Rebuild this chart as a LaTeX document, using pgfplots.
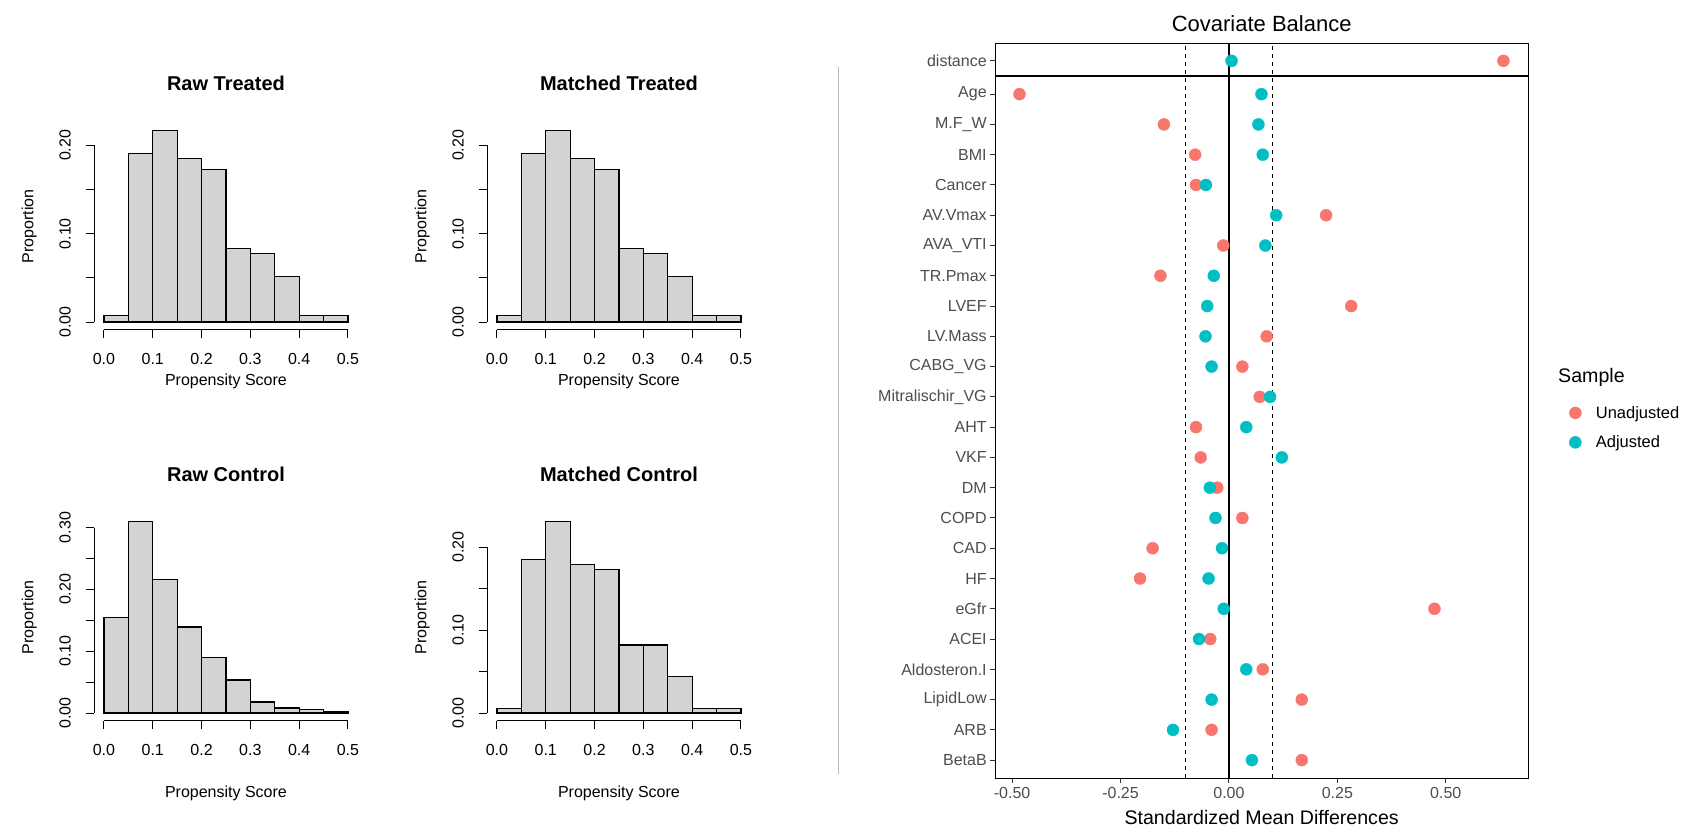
\documentclass[border=0pt]{standalone}
\usepackage{fontspec}
\setmainfont{Liberation Sans}
\usepackage{pgfplots}
\usepackage{pgfplotstable}
\pgfplotsset{compat=1.18}
\definecolor{ggred}{HTML}{F8766D}
\definecolor{ggteal}{HTML}{00BFC4}
\definecolor{gray30}{HTML}{4D4D4D}
\definecolor{gray20}{HTML}{333333}
\definecolor{rgray}{HTML}{D3D3D3}

\pgfplotstableread{
row unadj adj
24.1 0.633 0.006
23 -0.483 0.075
22 -0.150 0.068
21 -0.078 0.078
20 -0.076 -0.053
19 0.224 0.109
18 -0.013 0.084
17 -0.158 -0.035
16 0.282 -0.050
15 0.087 -0.054
14 0.031 -0.040
13 0.071 0.095
12 -0.076 0.040
11 -0.065 0.122
10 -0.027 -0.044
9 0.031 -0.031
8 -0.176 -0.016
7 -0.205 -0.047
6 0.474 -0.012
5 -0.043 -0.069
4 0.078 0.040
3 0.168 -0.040
2 -0.040 -0.129
1 0.168 0.053
}\baldata

\pgfplotsset{
  rhist/.style={
    scale only axis, width=263.5pt, height=207pt,
    xmin=-0.02, xmax=0.52,
    axis line style={draw=none},
    tick align=outside, major tick length=8.5pt,
    xtick pos=left, ytick pos=left,
    tick style={black, line width=1pt},
    xtick={0,0.1,0.2,0.3,0.4,0.5},
    xticklabels={0.0,0.1,0.2,0.3,0.4,0.5},
    ticklabel style={font=\fontsize{16}{19}\selectfont},
    xticklabel style={anchor=center, yshift=-21pt},
    yticklabel style={anchor=center, xshift=-20.5pt, rotate=90},
    xlabel={Propensity Score}, ylabel={Proportion},
    label style={font=\fontsize{16}{19}\selectfont},
    ylabel style={at={(axis description cs:-0.247,0.5)}, anchor=center},
    title style={at={(axis description cs:0.5,1.161)}, anchor=center, font=\bfseries\fontsize{20}{24}\selectfont},
    clip=false,
  },
  toprow/.style={xlabel style={at={(axis description cs:0.5,-0.25)}, anchor=center}},
  botrow/.style={xlabel style={at={(axis description cs:0.5,-0.349)}, anchor=center}},
  rbar/.style={ybar, bar width=0.05, bar shift=0pt, fill=rgray, draw=black, line width=1.2pt},
}

\begin{document}
\begin{tikzpicture}
\path[use as bounding box] (0,0) rectangle (1691pt,829pt);

% Raw Treated
\begin{axis}[rhist, toprow, at={(94.2pt,499.3pt)}, anchor=south west,
  ymin=-0.00868, ymax=0.22568, title={Raw Treated},
  ytick={0,0.05,0.1,0.15,0.2}, yticklabels={0.00,,0.10,,0.20}]
\addplot[rbar] coordinates {(0.025,0.0075) (0.075,0.191) (0.125,0.217) (0.175,0.185) (0.225,0.173) (0.275,0.0836) (0.325,0.078) (0.375,0.0516) (0.425,0.0075) (0.475,0.0075)};
\draw[line width=1pt] (axis cs:0,-0.00868) -- (axis cs:0.5,-0.00868);
\draw[line width=1pt] (axis cs:-0.02,0) -- (axis cs:-0.02,0.2);
\end{axis}

% Matched Treated
\begin{axis}[rhist, toprow, at={(487.2pt,499.3pt)}, anchor=south west,
  ymin=-0.00868, ymax=0.22568, title={Matched Treated},
  ytick={0,0.05,0.1,0.15,0.2}, yticklabels={0.00,,0.10,,0.20}]
\addplot[rbar] coordinates {(0.025,0.0075) (0.075,0.191) (0.125,0.217) (0.175,0.185) (0.225,0.173) (0.275,0.0836) (0.325,0.078) (0.375,0.0516) (0.425,0.0075) (0.475,0.0075)};
\draw[line width=1pt] (axis cs:0,-0.00868) -- (axis cs:0.5,-0.00868);
\draw[line width=1pt] (axis cs:-0.02,0) -- (axis cs:-0.02,0.2);
\end{axis}

% Raw Control
\begin{axis}[rhist, botrow, at={(94.2pt,108.3pt)}, anchor=south west,
  ymin=-0.0124, ymax=0.3224, title={Raw Control},
  ytick={0,0.05,0.1,0.15,0.2,0.25,0.3}, yticklabels={0.00,,0.10,,0.20,,0.30}]
\addplot[rbar] coordinates {(0.025,0.154) (0.075,0.310) (0.125,0.216) (0.175,0.139) (0.225,0.090) (0.275,0.0535) (0.325,0.018) (0.375,0.008) (0.425,0.0054) (0.475,0.0016)};
\draw[line width=1pt] (axis cs:0,-0.0124) -- (axis cs:0.5,-0.0124);
\draw[line width=1pt] (axis cs:-0.02,0) -- (axis cs:-0.02,0.3);
\end{axis}

% Matched Control
\begin{axis}[rhist, botrow, at={(487.2pt,108.3pt)}, anchor=south west,
  ymin=-0.00924, ymax=0.24024, title={Matched Control},
  ytick={0,0.05,0.1,0.15,0.2}, yticklabels={0.00,,0.10,,0.20}]
\addplot[rbar] coordinates {(0.025,0.0056) (0.075,0.185) (0.125,0.231) (0.175,0.179) (0.225,0.173) (0.275,0.082) (0.325,0.082) (0.375,0.044) (0.425,0.0056) (0.475,0.0056)};
\draw[line width=1pt] (axis cs:0,-0.00924) -- (axis cs:0.5,-0.00924);
\draw[line width=1pt] (axis cs:-0.02,0) -- (axis cs:-0.02,0.2);
\end{axis}

% divider
\draw[gray!55, line width=1pt] (838pt,762pt) -- (838pt,55pt);

% Covariate balance
\begin{axis}[at={(995.2pt,50.7pt)}, anchor=south west, scale only axis,
  width=532.9pt, height=735pt,
  xmin=-0.539, xmax=0.690, ymin=0.4, ymax=24.68,
  axis line style={line width=1.2pt, black},
  tick align=outside, major tick length=5pt, xtick pos=left, ytick pos=left,
  tick style={gray20, line width=1pt},
  xtick={-0.5,-0.25,0,0.25,0.5}, xticklabels={-0.50,-0.25,0.00,0.25,0.50},
  ytick={1,2,3,4,5,6,7,8,9,10,11,12,13,14,15,16,17,18,19,20,21,22,23,24.1},
  yticklabels={BetaB,ARB,LipidLow,Aldosteron.I,ACEI,eGfr,HF,CAD,COPD,DM,VKF,AHT,Mitralischir\_VG,CABG\_VG,LV.Mass,LVEF,TR.Pmax,AVA\_VTI,AV.Vmax,Cancer,BMI,M.F\_W,Age,distance},
  ticklabel style={font=\fontsize{16}{19}\selectfont, text=gray30},
  xlabel={Standardized Mean Differences},
  xlabel style={font=\fontsize{19.6}{23}\selectfont, at={(axis description cs:0.5,-0.054)}, anchor=center},
  title={Covariate Balance},
  title style={font=\fontsize{22}{26}\selectfont, at={(axis description cs:0.5,1.019)}, anchor=center},
  legend image code/.code={\draw[#1] plot coordinates {(8.5pt,0pt)}; \path[draw=none, fill=none] (0pt,-6pt) rectangle (27pt,6pt);},
  legend style={draw=none, fill=none, font=\fontsize{16.5}{19}\selectfont,
    at={(axis description cs:1.0667,0.512)}, anchor=north west, row sep=12pt},
  legend cell align=left,
  clip=false,
]
\addplot[black, line width=1.2pt, forget plot] coordinates {(0,0.4) (0,24.68)};
\addplot[black, line width=1pt, dash pattern=on 4pt off 4pt, forget plot] coordinates {(-0.1,0.4) (-0.1,24.68)};
\addplot[black, line width=1pt, dash pattern=on 4pt off 4pt, forget plot] coordinates {(0.1,0.4) (0.1,24.68)};
\addplot[black, line width=1.2pt, forget plot] coordinates {(-0.539,23.6) (0.690,23.6)};
\addplot[only marks, mark=*, mark size=6pt, color=ggred] table[x=unadj, y=row] {\baldata};
\addlegendentry{Unadjusted}
\addplot[only marks, mark=*, mark size=6pt, color=ggteal] table[x=adj, y=row] {\baldata};
\addlegendentry{Adjusted}
\end{axis}
\node[anchor=west, inner sep=0pt, font=\fontsize{19.6}{23}\selectfont] at (1558pt,452pt) {Sample};
\end{tikzpicture}
\end{document}
